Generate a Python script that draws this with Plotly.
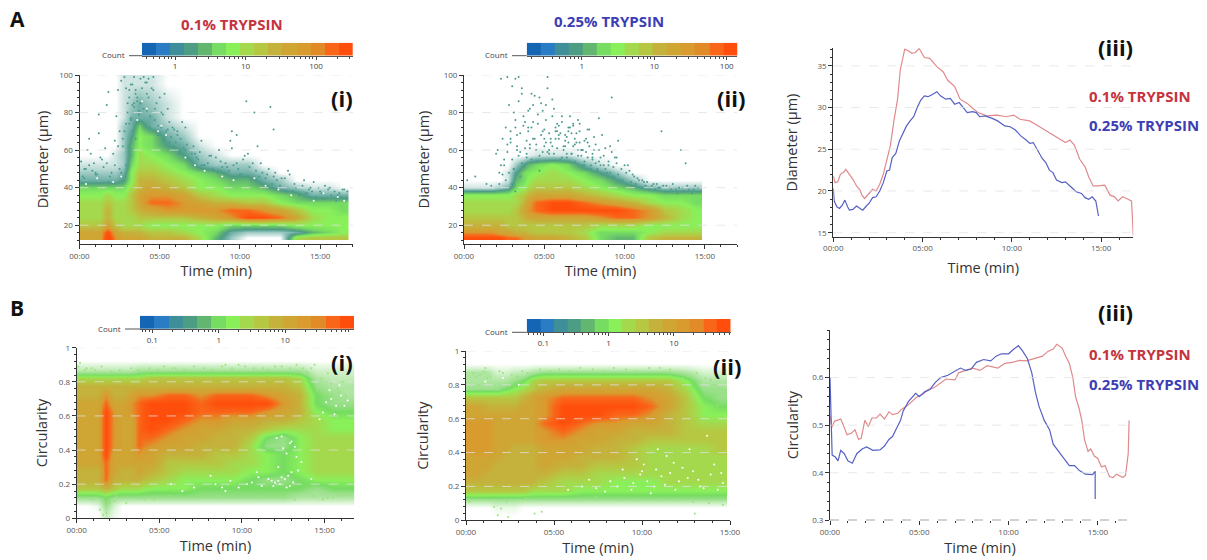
import math
import plotly.graph_objects as go

W, H = 1207, 560
FONT = "Open Sans"
RED_TXT, BLUE_TXT = "#c5333c", "#3d3db4"
RED_LINE, BLUE_LINE = "#e08a8c", "#5560c4"
MM = ["00:00", "05:00", "10:00", "15:00"]
MM_V = [0, 5, 10, 15]

BANDS = ["#1565b5", "#2a7cc4", "#3f8f9b", "#4d9c84", "#62b670", "#76dc62", "#8af05a", "#a4d94e",
         "#b6c742", "#c4b23c", "#cfa534", "#d99a2e", "#e08a28", "#f9661a", "#ff4e0c"]

# ---- heat-map cell edges
T_17 = [0, 1, 1.5, 2, 2.5, 3, 3.5, 4, 5, 6, 7, 8, 9, 10, 11, 12, 13, 14, 15, 16, 16.8]
T_15 = [0, 1, 1.5, 2, 2.5, 3, 3.5, 4, 5, 6, 7, 8, 9, 10, 11, 12, 13, 14, 14.85]
D_EDGES = [12, 15, 18, 22, 26, 30, 34, 38, 42, 46, 50, 55, 60, 65, 70, 75, 80, 90, 100]
C_EDGES = [0, .05, .1, .15, .2, .25, .3, .35, .4, .45, .5, .55, .6, .65, .7, .75, .8, .85, .9, .95, 1]

# ---- colour-band level read from each cell (0 = empty, 15 = top band); bottom row first
A1 = [
 [11,11,15,12,11,11,11,10,10,10,8,5,2,0,0,0,8,9,9,9],
 [11,11,14,11,10,10,10,9,9,8,7,6,3,2,2,2,3,5,6,7],
 [9,9,11,9,8,8,8,7,7,7,7,7,6,6,6,6,7,7,7,7],
 [8,8,10,8,8,8,9,9,9,9,10,11,12,14,14,13,11,8,7,7],
 [8,8,10,8,8,9,10,11,12,12,12,12,13,13,12,11,9,7,7,6],
 [8,8,9,8,8,9,11,13,13,12,11,10,10,9,9,7,6,6,6,6],
 [7,7,8,7,7,9,11,12,12,11,9,8,7,7,7,6,5,3,3,3],
 [6,6,6,6,6,8,10,11,10,9,7,7,6,6,5,3,2,1,1,0],
 [3,3,3,3,4,7,10,10,9,8,7,6,5,5,3,2,0,0,0,0],
 [2,2,2,2,3,7,9,9,8,7,6,5,3,3,2,0,0,0,0,0],
 [1,1,1,1,2,6,8,8,7,6,3,2,2,2,0,0,0,0,0,0],
 [0,0,0,1,2,5,8,7,6,4,2,1,0,0,0,0,0,0,0,0],
 [0,0,0,0,2,5,7,6,4,3,1,0,0,0,0,0,0,0,0,0],
 [0,0,0,0,2,4,7,6,3,2,0,0,0,0,0,0,0,0,0,0],
 [0,0,0,0,2,3,6,3,2,1,0,0,0,0,0,0,0,0,0,0],
 [0,0,0,0,1,3,3,3,1,0,0,0,0,0,0,0,0,0,0,0],
 [0,0,0,0,1,2,3,2,1,0,0,0,0,0,0,0,0,0,0,0],
 [0,0,0,0,1,1,1,1,0,0,0,0,0,0,0,0,0,0,0,0],
]
A2 = [
 [14,14,14,14,13,13,12,11,11,10,9,6,5,5,9,10,10,10],
 [12,12,12,11,11,10,10,9,9,9,8,6,6,6,7,8,8,8],
 [10,10,10,10,9,9,9,9,9,9,9,8,8,8,7,7,7,7],
 [9,9,9,9,9,9,10,11,11,11,11,12,13,13,12,10,8,7],
 [8,8,8,8,8,9,11,13,14,14,14,14,14,13,12,9,8,7],
 [8,8,8,8,8,8,10,13,14,14,13,12,11,10,8,7,7,6],
 [7,7,7,7,7,8,9,11,11,11,10,9,8,7,7,6,6,6],
 [1,1,1,2,3,6,7,9,9,9,8,7,6,5,3,2,2,2],
 [0,0,0,0,1,5,6,8,8,8,7,6,4,2,0,0,0,0],
 [0,0,0,0,1,4,6,7,8,7,6,4,2,0,0,0,0,0],
 [0,0,0,0,0,2,4,6,7,6,3,1,0,0,0,0,0,0],
 [0,0,0,0,0,0,0,1,1,1,0,0,0,0,0,0,0,0],
 [0,0,0,0,0,0,0,0,0,0,0,0,0,0,0,0,0,0],
 [0,0,0,0,0,0,0,0,0,0,0,0,0,0,0,0,0,0],
 [0,0,0,0,0,0,0,0,0,0,0,0,0,0,0,0,0,0],
 [0,0,0,0,0,0,0,0,0,0,0,0,0,0,0,0,0,0],
 [0,0,0,0,0,0,0,0,0,0,0,0,0,0,0,0,0,0],
 [0,0,0,0,0,0,0,0,0,0,0,0,0,0,0,0,0,0],
]
B1 = [
 [0,0,3,1,0,0,0,0,0,0,0,0,0,0,0,0,0,0,0,0],
 [0,1,5,2,0,0,0,0,0,0,0,0,0,0,0,0,0,0,0,0],
 [5,5,6,5,5,5,5,5,5,5,5,5,5,5,5,5,4,4,4,4],
 [9,9,10,9,8,8,8,7,7,7,6,6,6,6,6,6,6,5,6,6],
 [10,10,13,10,10,10,10,9,8,7,7,7,7,6,5,5,6,7,7,7],
 [10,10,13,11,10,10,11,10,9,8,8,8,8,7,7,6,7,8,8,8],
 [11,11,13,11,11,11,11,11,9,9,9,9,8,8,7,6,7,8,8,8],
 [11,11,14,11,11,11,12,11,10,10,10,9,9,8,7,6,7,8,8,8],
 [11,11,14,12,11,11,13,12,11,11,10,10,10,8,5,5,7,8,8,8],
 [11,11,14,12,11,11,13,13,12,11,11,10,10,9,6,5,7,8,8,8],
 [11,11,14,12,11,11,13,14,13,12,11,11,10,10,9,8,8,8,7,7],
 [11,11,14,12,11,11,13,14,14,13,12,12,11,11,10,10,9,8,7,7],
 [11,11,14,12,11,12,13,14,14,14,13,13,13,13,12,11,10,7,6,6],
 [11,11,13,11,11,12,13,14,14,14,13,14,14,14,14,12,10,6,5,5],
 [10,10,12,10,10,11,12,12,13,13,12,13,13,13,12,11,10,6,5,4],
 [10,10,10,10,10,10,10,10,10,10,10,10,10,10,10,10,9,5,4,4],
 [8,8,8,8,8,8,8,9,9,9,9,9,9,9,9,9,8,4,3,3],
 [3,3,3,3,3,3,4,4,4,4,4,4,4,4,4,4,4,2,2,2],
 [0,0,0,0,0,0,0,0,0,0,0,0,0,0,0,0,0,0,0,0],
 [0,0,0,0,0,0,0,0,0,0,0,0,0,0,0,0,0,0,0,0],
]
B2 = [
 [0,0,0,0,0,0,0,0,0,0,0,0,0,0,0,0,0,0],
 [0,0,1,1,1,0,0,0,0,0,0,0,0,0,0,0,0,0],
 [5,5,5,5,5,5,5,5,5,5,5,5,5,5,5,5,5,5],
 [9,9,9,9,9,9,8,8,8,7,7,7,7,7,7,7,7,7],
 [10,10,10,10,10,10,10,9,8,8,8,7,7,7,8,8,8,8],
 [11,10,10,10,10,10,10,10,9,9,8,8,8,8,8,8,8,8],
 [11,11,10,10,10,10,10,11,10,10,9,9,9,8,8,8,8,8],
 [11,11,11,10,10,10,10,11,11,10,10,10,9,8,8,8,8,8],
 [12,12,11,11,10,10,10,11,11,11,10,10,9,8,8,8,8,9],
 [12,12,11,11,11,11,11,12,12,11,11,10,10,9,9,9,9,9],
 [12,12,11,11,11,11,11,12,13,12,11,11,10,10,10,9,9,9],
 [12,12,11,11,11,11,11,13,14,13,12,12,11,11,10,9,8,8],
 [11,11,11,11,11,11,11,12,14,14,14,13,13,12,10,9,7,7],
 [11,10,10,10,10,11,11,12,14,14,14,14,14,13,11,9,7,6],
 [9,9,9,9,9,10,11,12,13,13,13,13,13,12,11,9,6,5],
 [5,5,5,6,7,8,9,10,11,11,11,11,11,11,10,8,5,5],
 [4,4,4,4,5,6,8,9,9,9,9,9,9,9,9,7,4,4],
 [4,4,2,2,3,3,4,5,5,5,5,5,5,5,5,4,2,2],
 [0,0,0,0,0,0,0,0,0,0,0,0,0,0,0,0,0,0],
 [0,0,0,0,0,0,0,0,0,0,0,0,0,0,0,0,0,0],
]

# ---- isolated events
A1_T = [0.3,0.6,1.0,1.3,1.6,0.2,0.9,1.2,1.7,2.0,2.4,2.6,2.8,2.9,3.0,2.3,2.5,2.7,3.1,3.2,3.3,3.4,3.5,3.6,3.8,3.9,4.0,4.1,4.2,4.3,4.5,4.6,4.8,5.0,5.2,5.5,5.8,6.1,6.4,
        2.6,2.9,3.1,3.3,3.5,3.7,3.9,4.2,4.4,4.7,4.9,5.1,5.3,5.6,5.9,6.2,6.6,6.9,7.3,7.6,8.0,8.4,8.8,9.2,9.5,9.8,10.1,10.5,10.8,11.1,11.4,11.8,12.1,12.6,13.0,13.4,14.0,14.4,15.3,16.4,
        1.7,1.8,1.2,0.6,10.4,10.9,11.9,12.1,9.5,9.8,7.6,8.2,
        0.1,0.4,0.7,1.1,1.4,1.9,2.2,2.5,0.5,0.8,1.5,2.1,2.4,0.3,1.0,1.8,2.7,2.9,3.0,3.1,3.2,3.4,3.5,3.7,3.3,3.6,3.8,4.0,4.3,4.4,4.7,4.9,5.1,5.4,5.6,5.7,5.9,6.0,6.3,6.5,6.7,6.8,7.0,7.1,7.4,7.5,7.8,8.1,8.3,8.5,8.6,8.9,9.1,9.3,9.6,9.9,10.0,10.2,10.6,10.7,11.0,11.2,11.3,11.6,11.7,12.0,12.2,12.3,12.5,12.8,12.9,13.1,13.3,13.5,13.7,13.9,14.1,14.3,14.5,14.7,14.9,15.1,15.2,15.5,15.7,15.9,16.0,16.2,16.3,16.5,16.6,16.7,16.1,15.6,15.0,14.6,14.2,2.2,2.8,3.2,3.4,4.2,4.6,5.3,5.5,6.1,6.6,7.2,7.7,8.7,9.4,10.3,11.5,
        ]
A1_D = [50,52,48,56,61,46,53,69,53,48,92,97,99,93,85,78,70,62,88,95,84,99,92,86,98,93,99,96,90,98,93,99,85,88,79,82,72,70,75,
        48,52,74,70,66,79,75,81,72,76,68,72,66,64,62,58,60,55,56,52,53,49,54,51,61,53,47,58,53,62,48,50,46,45,49,42,44,40,41,39,
        84,91,79,66,86,80,83,71,70,68,65,57,
        54,50,58,47,55,46,52,50,60,49,51,58,62,45,47,43,66,74,80,92,76,83,90,81,95,88,85,82,88,78,82,73,80,70,75,67,71,64,66,61,63,60,58,62,55,59,52,57,50,56,48,51,53,49,52,50,47,55,51,44,49,46,53,45,47,42,48,44,41,45,38,47,38,40,36,41,37,39,38,35,40,37,34,39,36,38,33,37,35,39,34,38,36,40,38,43,37,65,70,77,85,96,92,90,71,68,72,58,52,60,65,57]
A1_GAP_T = [1.1,2.6,3.6,4.2,4.9,5.4,6.6,7.8,8.9,9.6,10.9,11.6,12.4,13.2,14.6,15.2,16.1,16.5,0.4,2.1,3.9,5.1,7.2]
A1_GAP_D = [45,46,76,82,70,68,56,49,46,44,45,41,39,36,33,37,35,33,42,43,86,73,52]
A2_T = [0.2,0.5,0.7,1.4,1.7,2.0,2.3,2.1,2.4,2.6,2.8,3.0,3.2,3.4,2.2,2.5,2.7,2.9,3.1,3.3,3.5,3.7,3.9,4.1,4.3,4.5,4.7,4.9,5.1,5.3,5.5,5.7,5.9,6.1,6.3,6.5,6.7,6.9,7.1,7.3,7.5,7.7,7.9,8.1,8.3,8.5,8.7,8.9,9.1,9.3,9.5,9.7,10,10.3,10.6,10.9,11.2,11.5,11.8,12.1,12.4,12.8,13.2,13.6,14.0,14.4,
        2.3,2.7,3.2,3.6,4.2,5.2,5.5,2.9,3.3,4.0,4.6,5.0,5.8,6.4,6.8,7.2,7.7,8.0,8.4,9.2,12.3,13.5,13.8,
        2.2,2.4,2.5,2.6,2.7,2.8,2.9,3.0,3.1,3.2,3.3,3.4,3.5,3.6,3.7,3.8,3.9,4.0,4.1,4.2,4.3,4.4,4.5,4.6,4.7,4.8,4.9,5.0,5.1,5.2,5.3,5.4,5.6,5.7,5.8,5.9,6.0,6.1,6.2,6.3,6.4,6.5,6.6,6.7,6.8,6.9,7.0,7.1,7.2,7.3,7.4,7.5,7.6,7.7,7.8,7.9,8.0,8.1,8.2,8.3,8.4,8.5,8.6,8.7,8.8,8.9,9.0,9.1,9.2,9.3,9.4,9.5,9.6,9.8,9.9,10.1,10.2,10.4,10.5,10.7,10.8,11.0,11.1,11.3,11.4,11.6,11.7,11.9,12.0,12.2,12.5,12.6,12.9,13.0,13.3,13.4,13.7,13.9,14.2,14.3,14.6,
        3.0,3.2,3.4,3.6,3.8,4.0,4.2,4.4,4.6,4.8,5.0,5.2,5.4,5.6,5.8,6.0,6.2,6.4,6.6,6.8,7.0,7.2,7.4,7.6,7.8,8.0,8.2,8.4,8.6,8.8,9.0,9.4,9.6,
        3.1,3.3,3.5,3.7,3.9,4.1,4.3,4.5,4.7,4.9,5.1,5.3,5.5,5.7,5.9,6.1,6.3,6.5,6.7,6.9,7.1,7.3,7.5]
A2_D = [44,38,46,42,41,58,52,60,66,72,84,94,76,99,48,55,63,70,80,68,59,73,65,82,75,63,88,70,84,60,78,66,73,56,62,70,58,66,76,60,54,64,52,60,50,56,52,48,62,46,56,44,52,49,46,44,43,40,42,40,41,40,39,40,39,41,
        98,99,98,93,90,99,87,66,60,72,54,66,70,58,74,64,71,56,77,88,70,60,53,
        42,47,52,44,59,48,64,55,50,72,62,57,69,53,78,61,58,70,63,55,84,66,60,74,57,68,81,62,76,59,69,64,58,72,61,66,55,78,60,68,56,64,72,58,62,54,69,60,74,57,52,65,59,56,62,50,55,67,53,49,60,52,47,57,50,46,54,48,59,51,45,53,47,50,44,48,52,43,47,42,45,40,44,41,43,40,41,39,42,40,38,41,39,42,37,40,38,41,37,39,40,42,38,
        86,90,75,81,72,89,79,85,71,93,66,82,74,69,62,67,78,73,64,70,60,66,71,58,63,54,68,61,52,56,65,50,47,
        46,51,56,61,66,54,49,59,64,58,62,70,68,75,65,72,69,63,57,60,52,64,49]
B1_T = [0.1,0.2,0.5,0.9,1.4,1.6,1.8,2.0,2.3,3.0,4.1,6.0,9.0,10.2,11.3,12.0,14.0,14.8,15.4,15.8,16.1,14.4,15.0,15.6,16.3,13.9,14.2,14.7,15.2,15.9,
        0.6,1.1,1.5,2.1,2.6,3.3,3.7,4.4,4.9,5.3,5.8,6.5,7.1,7.7,8.2,8.8,9.4,9.8,10.7,11.6,12.4,12.9,13.3,13.7,0.3,1.0,2.4,3.6,4.7,5.6,6.9,8.5,10.0,11.1,12.2,13.2,14.3,15.2,16.5,14.9,15.5,16.0,16.6]
B1_C = [.89,.91,.87,.88,.05,.02,.03,.09,.1,.09,.11,.88,.9,.89,.88,.89,.85,.82,.79,.76,.8,.9,.73,.7,.72,.86,.88,.8,.85,.74,
        .88,.87,.89,.86,.87,.88,.87,.88,.87,.89,.88,.87,.89,.88,.87,.89,.88,.9,.88,.87,.89,.88,.9,.88,.12,.11,.13,.12,.11,.13,.12,.13,.14,.13,.12,.11,.13,.12,.14,.11,.12,.13,.14]
B1_GAP_T = [11.6,11.8,12.0,12.2,12.4,12.6,12.8,13.0,13.1,12.9,12.3,12.7,10.6,11.2,8.4,9.3,7.1,15.4,15.7,16.0,15.1,14.9,13.0,13.2,12.4,12.7,
            9.8,10.3,11.0,11.9,13.4,14.2,15.6,16.2,8.1,9.0,12.1,12.5,13.3,15.9,15.3,14.7,16.4,13.6,12.2,12.9,8.8,6.4,5.7,10.9]
B1_GAP_C = [.23,.22,.21,.22,.24,.23,.25,.27,.21,.19,.2,.18,.21,.19,.2,.22,.18,.7,.66,.72,.68,.62,.45,.42,.48,.38,
            .18,.2,.24,.19,.28,.23,.61,.66,.25,.16,.47,.41,.36,.78,.75,.58,.69,.33,.3,.44,.18,.16,.2,.27]
B2_T = [0.8,1.0,1.2,1.6,1.8,2.4,2.0,3.2,3.9,4.3,13.0,0.6,1.1,2.1,2.9,0.7,12.3,13.6,14.1,14.5,12.9,13.3,14.3,
        0.4,1.4,1.9,2.6,3.5,4.2,4.8,5.3,5.9,6.5,7.2,7.8,8.4,9.1,9.7,10.4,11.0,11.6,12.0,12.6,0.2,1.3,2.3,3.4,4.6,5.5,6.4,7.4,8.6,9.8,10.8,11.9,12.9,13.8,14.6,13.1,13.9,14.7]
B2_C = [.86,.88,.84,.08,.03,.02,.07,.88,.04,.05,.04,.85,.9,.87,.85,.8,.84,.84,.8,.75,.73,.8,.68,
        .87,.85,.88,.86,.87,.89,.88,.89,.88,.9,.89,.88,.9,.89,.88,.9,.9,.89,.87,.85,.11,.12,.11,.13,.12,.13,.12,.14,.12,.13,.12,.13,.11,.1,.09,.87,.83,.86]
B2_GAP_T = [9.0,9.5,9.9,10.3,10.7,11.1,8.6,8.2,7.4,6.6,5.8,11.6,12.1,12.6,13.3,13.9,14.3,14.6,10.9,11.4,10.1,
            7.0,7.9,8.9,9.4,10.0,10.5,11.3,11.8,12.3,12.9,13.5,14.1,14.5,9.7,10.8,11.9,13.2,1.1,2.1,3.0,12.7,13.7]
B2_GAP_C = [.25,.22,.27,.23,.2,.26,.2,.23,.19,.2,.18,.28,.23,.25,.2,.27,.18,.22,.42,.38,.33,
            .24,.17,.3,.18,.29,.16,.21,.34,.31,.29,.19,.33,.28,.36,.3,.18,.24,.82,.84,.8,.42,.5]

# ---- mean traces
A3_RED_T = [0,.1,.25,.4,.6,.7,.9,1.1,1.3,1.5,1.6,1.75,2,2.2,2.4,2.6,2.8,3,3.2,3.4,3.6,3.75,4,4.2,4.4,4.6,4.8,5.1,5.4,5.8,6.15,6.4,6.8,7.1,7.5,7.75,8.1,8.6,9.15,9.7,10.1,10.45,11,11.55,12.1,12.5,13,13.25,13.5,13.8,14.1,14.3,14.55,14.8,15.2,15.5,15.75,15.95,16.2,16.5,16.7,16.8]
A3_RED_V = [21.8,21,21.1,22,22.3,22.6,22,21.4,20.6,20.1,19.5,19.1,19.7,20.2,20,20.8,22,23.7,25.5,28.5,31,34.5,37,36.8,36.5,36.6,37.1,36,35.9,34.9,34.3,33.3,32.5,31,30.5,30,29.4,29,29.1,28.9,29.1,28.6,28.4,27.7,27,26.4,25.8,26.1,25.5,23.8,22.9,21.7,20.6,20.6,20.7,19.5,19.3,18.8,19.3,19,18.8,14.7]
A3_BLUE_T = [0,.05,.2,.35,.5,.65,.8,.9,1.1,1.3,1.5,1.65,1.85,2,2.2,2.4,2.6,2.8,3,3.15,3.3,3.5,3.7,3.9,4.1,4.3,4.5,4.7,4.9,5.1,5.3,5.5,5.8,6,6.3,6.55,6.8,7.05,7.3,7.5,7.8,8,8.2,8.5,8.9,9.2,9.6,9.9,10.2,10.5,10.8,11,11.2,11.5,11.7,11.9,12.1,12.3,12.5,12.8,13,13.3,13.6,13.9,14.1,14.3,14.5,14.7,14.85]
A3_BLUE_V = [20.3,18.8,18.1,17.9,18.3,18.9,18.1,17.7,17.8,18.2,17.9,17.7,18.2,18.5,19.2,19.3,20,21,22.4,22.5,24,24.5,26,27,27.8,28.4,28.9,30,30.9,31.4,31.3,31.5,31.9,31.4,31,31.1,30.4,30.6,29.9,29.4,29.5,29.4,28.9,29,28.7,28.4,27.8,27.7,27.3,26.6,26.1,25.7,25.8,24.7,23.9,23.4,22.5,22.2,21.3,21,21.1,20.5,19.9,19.7,19.2,19,19.3,18.8,17]
B3_RED_T = [0,.1,.25,.4,.6,.75,.95,1.2,1.4,1.6,1.75,1.95,2.15,2.35,2.6,2.8,3.05,3.3,3.5,3.8,4,4.3,4.6,4.9,5.2,5.5,5.8,6.1,6.5,7,7.2,7.6,8,8.4,8.8,9.4,9.8,10.2,10.6,11,11.4,11.9,12.2,12.5,12.7,13,13.2,13.4,13.6,13.75,13.95,14.1,14.25,14.45,14.6,14.8,15,15.2,15.4,15.65,15.85,16.05,16.4,16.55,16.7,16.75]
B3_RED_V = [.52,.495,.508,.51,.513,.5,.48,.483,.49,.47,.473,.51,.497,.515,.515,.523,.513,.528,.522,.525,.533,.54,.55,.56,.565,.575,.578,.587,.597,.595,.61,.615,.62,.615,.625,.62,.63,.632,.636,.635,.64,.645,.655,.66,.67,.662,.645,.63,.6,.56,.535,.51,.47,.445,.45,.435,.43,.412,.415,.392,.39,.397,.39,.395,.44,.51]
B3_BLUE_T = [0,.05,.12,.3,.45,.6,.8,1,1.25,1.5,1.8,2.05,2.4,2.8,3.05,3.3,3.5,3.75,3.95,4.1,4.4,4.8,5,5.3,5.6,5.9,6.2,6.6,7,7.3,7.6,7.9,8.2,8.6,9,9.3,9.6,10,10.3,10.55,10.8,11.05,11.3,11.5,11.7,12,12.3,12.5,12.8,13.1,13.4,13.7,13.95,14.3,14.7,14.85,14.85]
B3_BLUE_V = [.6,.5,.437,.433,.425,.447,.44,.425,.42,.44,.45,.454,.447,.448,.456,.47,.476,.495,.51,.53,.55,.567,.56,.57,.575,.59,.6,.605,.613,.62,.615,.618,.632,.638,.635,.645,.65,.65,.66,.667,.655,.64,.61,.57,.54,.51,.49,.46,.445,.43,.415,.415,.405,.397,.396,.403,.345]

# ---- helpers
layout = dict(width=W, height=H, margin=dict(l=0, r=0, t=0, b=0), paper_bgcolor="white",
              plot_bgcolor="white", showlegend=False, shapes=[], annotations=[])
fig = go.Figure()
_n = [0]

def dx(p): return p / W
def dy(p): return 1 - p / H

def axes(x0, x1, ytop, ybot):
    _n[0] += 1
    k = _n[0]
    s = "" if k == 1 else str(k)
    layout["xaxis" + s] = dict(domain=[dx(x0), dx(x1)], anchor="y" + s)
    layout["yaxis" + s] = dict(domain=[dy(ybot), dy(ytop)], anchor="x" + s)
    return s, layout["xaxis" + s], layout["yaxis" + s]

def style(ax, title, standoff, size=14.5):
    ax.update(showline=True, linecolor="#333", linewidth=1, showgrid=False, zeroline=False,
              ticks="outside", ticklen=4, tickcolor="#333",
              tickfont=dict(family=FONT, size=8, color="#555"),
              title=dict(text=title, standoff=standoff, font=dict(family=FONT, size=size, color="#333")),
              automargin=False)

def panel(x0, x1, ytop, ybot, xmax, yrng, ytv, ytt, ymin_dt, xlab_standoff, ylab_standoff, grid, ytitle):
    s, xa, ya = axes(x0, x1, ytop, ybot)
    style(xa, "Time (min)", xlab_standoff)
    style(ya, ytitle, ylab_standoff)
    xa.update(range=[0, xmax], tickvals=MM_V, ticktext=MM, minor=dict(dtick=1, ticks="outside", ticklen=2, tickcolor="#333"))
    ya.update(range=yrng, tickvals=ytv, ticktext=ytt, minor=dict(dtick=ymin_dt, ticks="outside", ticklen=2, tickcolor="#333"))
    for g in grid:
        layout["shapes"].append(dict(type="line", xref=f"x{s} domain", x0=0, x1=1, yref=f"y{s}", y0=g, y1=g,
                                     layer="above", line=dict(color="rgba(225,225,225,.75)", width=1, dash="dash")))
    return s

def heat_scale(floor_level, floor_color):
    pts = [[0, "#ffffff"], [floor_level / 15, floor_color]]
    for i in range(floor_level, 15):
        # upper two bands reached one level earlier: the orange-red core is what reads in the source
        c = BANDS[min(i + 1, 14)] if i >= 12 else BANDS[i]
        pts.append([(i + 1) / 15, c])
    return pts

def heat(s, x, y, z, scale):
    fig.add_trace(go.Heatmap(x=x, y=y, z=z, zmin=0, zmax=15, zsmooth="best", colorscale=scale, showscale=False,
                             xaxis="x" + s, yaxis="y" + s, hoverinfo="skip"))

def dots(s, x, y, color, size=2):
    fig.add_trace(go.Scatter(x=x, y=y, mode="markers", marker=dict(color=color, size=size, line=dict(width=0)),
                             xaxis="x" + s, yaxis="y" + s, hoverinfo="skip"))

def curve(s, x, y, color, width=1.2):
    fig.add_trace(go.Scatter(x=x, y=y, mode="lines", line=dict(color=color, width=width), xaxis="x" + s, yaxis="y" + s, hoverinfo="skip"))

def colorbar(x0, x1, ytop, ybot, lo, hi, tv, tt, minor_v, count_x):
    s, xa, ya = axes(x0, x1, ytop, ybot)
    xa.update(type="log", range=[lo, hi], tickvals=tv, ticktext=tt, ticks="outside", ticklen=3, tickcolor="#444",
              showline=True, linecolor="#555", linewidth=1, showgrid=False, zeroline=False,
              tickfont=dict(family=FONT, size=8, color="#444"),
              minor=dict(tickvals=minor_v, ticks="outside", ticklen=2, tickcolor="#444"))
    ya.update(visible=False, range=[0, 1])
    n = len(BANDS)
    edges = [10 ** (lo + (hi - lo) * i / n) for i in range(n + 1)]
    fig.add_trace(go.Heatmap(x=edges, y=[0, 1], z=[list(range(n))], zmin=0, zmax=n - 1, showscale=False,
                             colorscale=[[i / (n - 1), c] for i, c in enumerate(BANDS)],
                             xaxis="x" + s, yaxis="y" + s, hoverinfo="skip"))
    layout["shapes"].append(dict(type="line", xref="paper", yref="paper", x0=dx(count_x + 16), x1=dx(x0), y0=dy(ybot), y1=dy(ybot),
                                 line=dict(color="#555", width=1)))
    layout["annotations"].append(dict(text="Count", x=dx(count_x + 14), y=dy(ybot - 1), xref="paper", yref="paper", xanchor="right", yanchor="middle",
                                      showarrow=False, font=dict(family=FONT, size=8, color="#444")))

def label(text, x, y, color="#111", size=15, bold=True, anchor="center"):
    t = f"<b>{text}</b>" if bold else text
    layout["annotations"].append(dict(text=t, x=dx(x), y=dy(y), xref="paper", yref="paper", xanchor=anchor, yanchor="middle",
                                      showarrow=False, font=dict(family=FONT, size=size, color=color)))

def minors(lo, hi):
    return [m * 10 ** e for e in range(-3, 4) for m in range(2, 10) if lo <= e + math.log10(m) <= hi]

D_TV, D_TT = [20, 40, 60, 80, 100], ["20", "40", "60", "80", "100"]
C_TV, C_TT = [0, .2, .4, .6, .8, 1], ["0", "0.2", "0.4", "0.6", "0.8", "1"]
SC_A = heat_scale(3, "#6fb0a6")
SC_B = heat_scale(5, "#9ae08a")
TEAL = "#4a9a90"
PALE = "#9be27e"

# A(i)
s = panel(79.5, 353, 75, 244, 17.05, [10, 100], D_TV, D_TT, 4, 6, 7, [20, 40, 60, 80, 100], "Diameter (µm)")
heat(s, T_17, D_EDGES, A1, SC_A); dots(s, A1_T, A1_D, TEAL); dots(s, A1_GAP_T, A1_GAP_D, "#ffffff")
# A(ii)
s = panel(464, 737, 75, 244, 17, [10, 100], D_TV, D_TT, 4, 6, 10, [20, 40, 60, 80, 100], "Diameter (µm)")
heat(s, T_15, D_EDGES, A2, SC_A); dots(s, A2_T, A2_D, TEAL)
# A(iii)
s = panel(833.3, 1133.3, 48.3, 236.7, 16.8, [14.52, 37.1], [15, 20, 25, 30, 35], ["15", "20", "25", "30", "35"], 1, 10, 16, [15, 20, 25, 30, 35], "Diameter (µm)")
curve(s, A3_RED_T, A3_RED_V, RED_LINE); curve(s, A3_BLUE_T, A3_BLUE_V, BLUE_LINE)
# B(i)
s = panel(76.7, 354.3, 347.7, 518.3, 16.8, [0, 1], C_TV, C_TT, .04, 6, 7, [.2, .4, .6, .8, 1], "Circularity")
heat(s, T_17, C_EDGES, B1, SC_B); dots(s, B1_T, B1_C, PALE); dots(s, B1_GAP_T, B1_GAP_C, "#ffffff")
# B(ii)
s = panel(466, 730, 351, 520.3, 15, [0, 1], C_TV, C_TT, .04, 6, 16, [.2, .4, .6, .8, 1], "Circularity")
heat(s, T_15, C_EDGES, B2, SC_B); dots(s, B2_T, B2_C, PALE); dots(s, B2_GAP_T, B2_GAP_C, "#ffffff")
# B(iii)
s = panel(830, 1130, 330, 520.3, 16.8, [.3, .7], [.3, .4, .5, .6], ["0.3", "0.4", "0.5", "0.6"], .02, 6, 10, [.4, .5, .6], "Circularity")
layout["xaxis" + s]["showline"] = False
curve(s, B3_RED_T, B3_RED_V, RED_LINE); curve(s, B3_BLUE_T, B3_BLUE_V, BLUE_LINE)
layout["shapes"].append(dict(type="line", xref=f"x{s} domain", x0=0, x1=1, yref=f"y{s}", y0=.3, y1=.3, layer="above",
                             line=dict(color="#222", width=1, dash="dash")))

colorbar(142, 352.7, 42.7, 55.7, -.468, 2.52, [1, 10, 100], ["1", "10", "100"], minors(-.468, 2.52), 113)
colorbar(526.7, 737.3, 42.7, 55.7, -.76, 2.146, [1, 10, 100], ["1", "10", "100"], minors(-.76, 2.146), 496)
colorbar(140, 354.3, 315.7, 329, -1.185, 2.04, [.1, 1, 10], ["0.1", "1", "10"], minors(-1.185, 2.04), 109)
colorbar(526.7, 730.7, 319, 332.3, -1.255, 1.87, [.1, 1, 10], ["0.1", "1", "10"], minors(-1.255, 1.87), 496)

label("A", 17, 19, size=21)
label("B", 17, 308, size=21)
label("0.1% TRYPSIN", 232, 24, RED_TXT)
label("0.25% TRYPSIN", 609, 21, BLUE_TXT)
label("(i)", 342, 98, size=22)
label("(ii)", 731, 98, size=22)
label("(iii)", 1115, 47, size=22)
label("(i)", 342, 362, size=22)
label("(ii)", 727, 366, size=22)
label("(iii)", 1115, 312, size=22)
label("0.1% TRYPSIN", 1087, 96, RED_TXT, anchor="left")
label("0.25% TRYPSIN", 1087, 125, BLUE_TXT, anchor="left")
label("0.1% TRYPSIN", 1087, 354, RED_TXT, anchor="left")
label("0.25% TRYPSIN", 1087, 384, BLUE_TXT, anchor="left")

fig.update_layout(**layout)
fig.write_html("out.html", config=dict(displayModeBar=False), post_script="document.body.style.margin='0';")
